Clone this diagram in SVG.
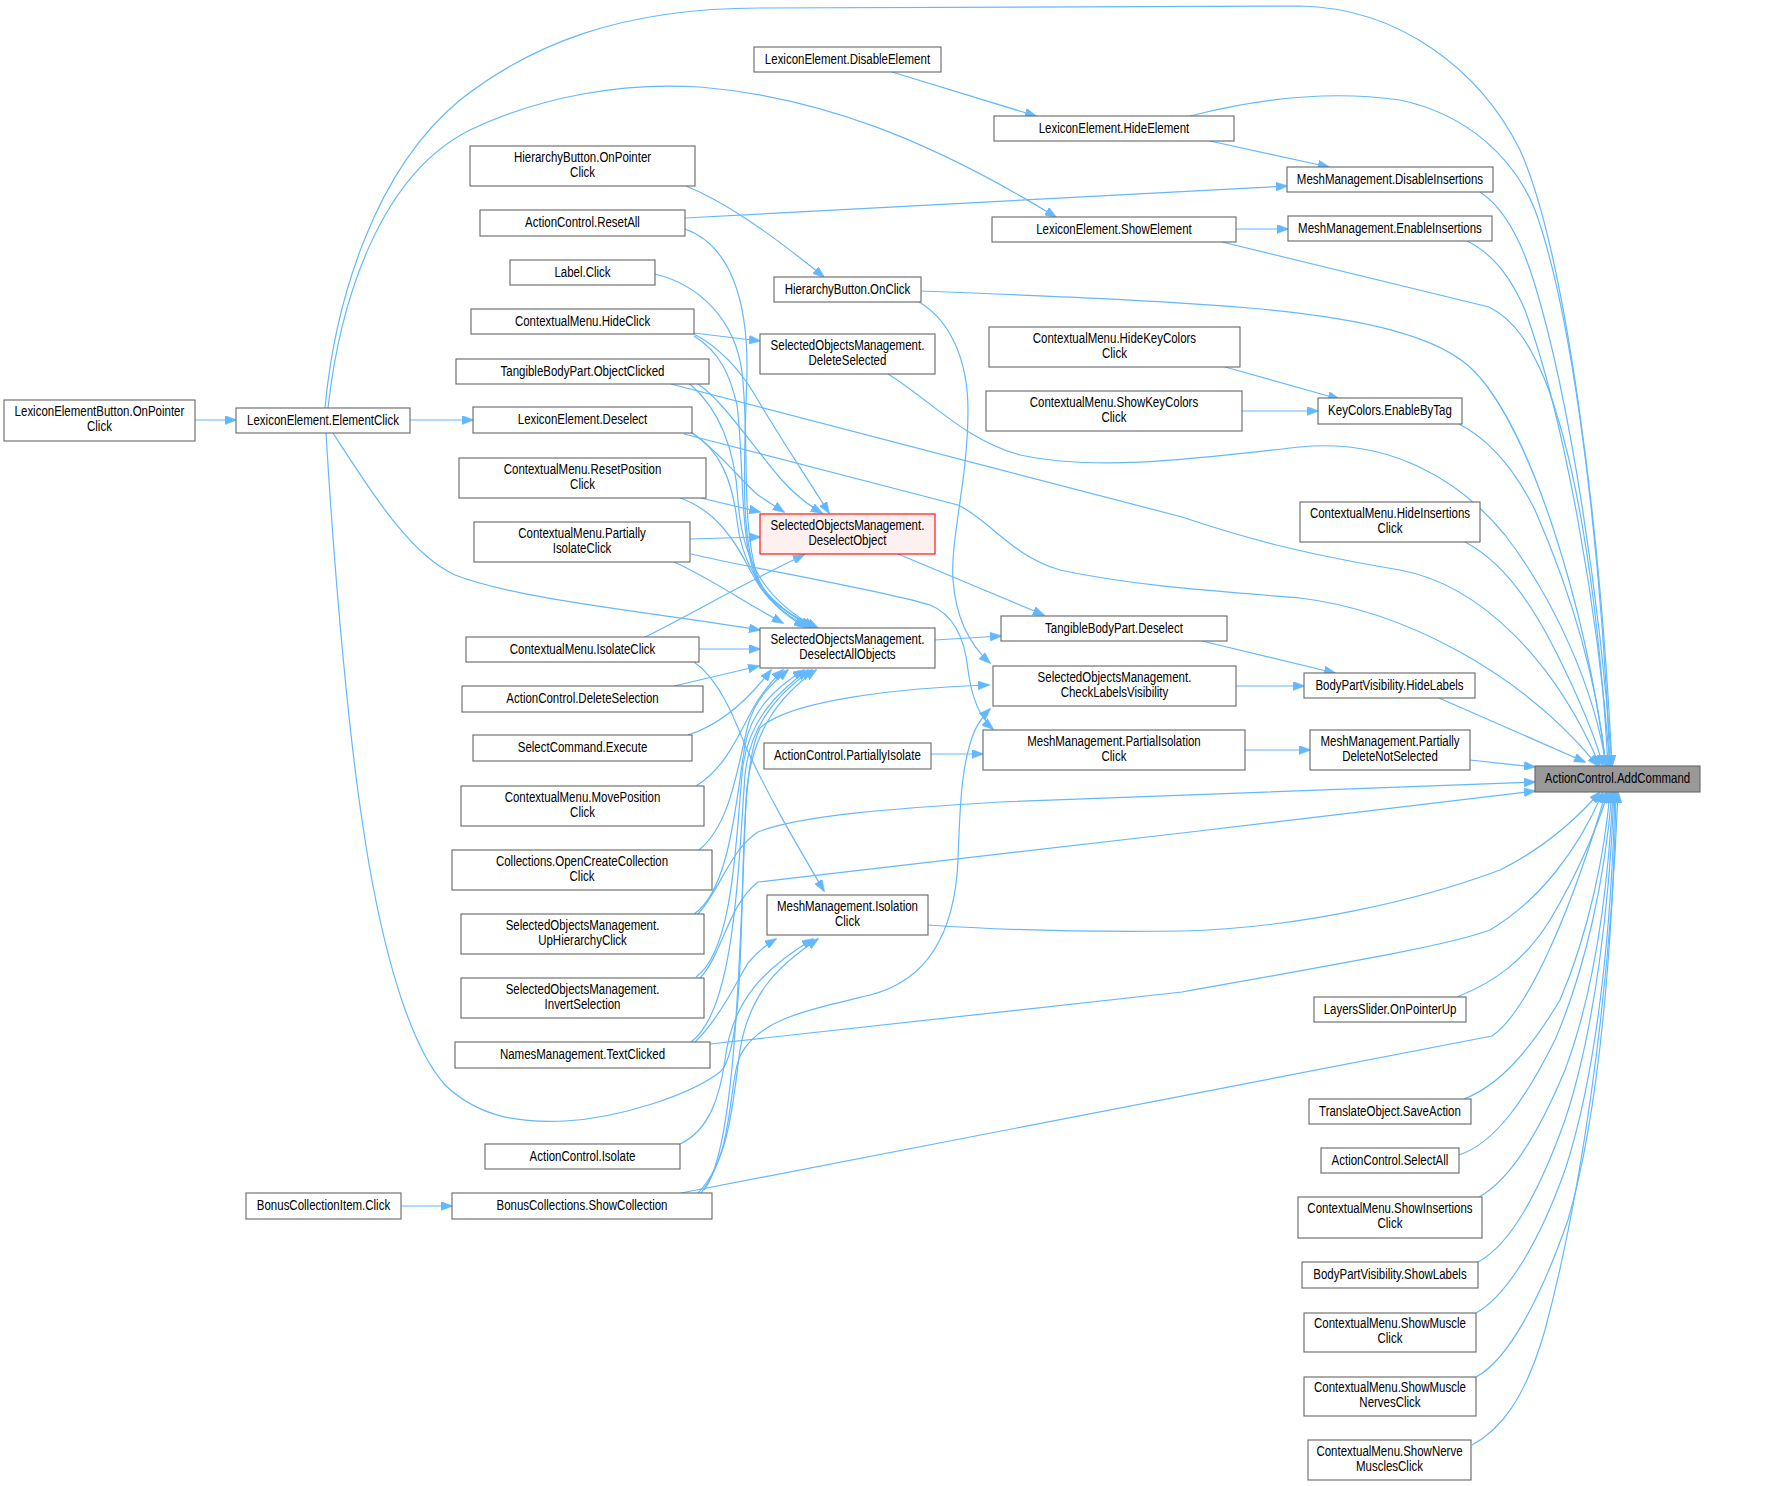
<svg xmlns="http://www.w3.org/2000/svg" width="1773" height="1486" viewBox="0 0 1773 1486">
<style>
.n rect{fill:#fff;stroke:#666;stroke-width:1.1}
.hl rect{fill:#fff0f0;stroke:#ff0000}
.root rect{fill:#999;stroke:#666}
.n text{font-family:"Liberation Sans",Arial,sans-serif;font-size:14px;text-anchor:middle;fill:#000}
.e path{fill:none;stroke:#63b8ff;stroke-width:1.2;marker-end:url(#ah)}
</style>
<defs>
<marker id="ah" viewBox="0 0 12 9" refX="11" refY="4.5" markerWidth="12" markerHeight="9" markerUnits="userSpaceOnUse" orient="auto">
<path d="M0,0 L12,4.5 L0,9 z" fill="#63b8ff" stroke="#63b8ff" stroke-width="0.5"/>
</marker>
</defs>
<rect width="1773" height="1486" fill="#fff"/>
<g id="edges" class="e">
<path d="M195,420 L236,420"/>
<path d="M410,420 L473,420"/>
<path d="M325,408 C335,300 375,170 460,100 C530,45 620,8 760,8 L1300,6 C1400,8 1480,70 1520,150 C1565,250 1600,520 1612,766"/>
<path d="M328,408 C340,300 380,175 470,130 C540,97 620,82 700,87 C820,97 930,140 1056,217"/>
<path d="M333,433 C370,490 410,555 455,575 C520,600 650,612 760,630"/>
<path d="M326,433 C336,600 350,740 362,820 C378,930 405,1040 445,1085 C480,1118 520,1123 565,1121 C620,1118 690,1095 720,1072 C745,1050 740,900 745,820 C748,770 752,745 760,728 C790,700 900,688 989,685"/>
<path d="M892,72 L1036,116"/>
<path d="M1210,141 L1329,167"/>
<path d="M1190,116 C1260,98 1330,90 1400,100 C1470,115 1515,160 1535,210 C1575,320 1602,560 1610,766"/>
<path d="M685,218 L1287,186"/>
<path d="M1236,229 L1288,229"/>
<path d="M1480,192 C1500,205 1520,235 1535,285 C1570,400 1600,600 1612,766"/>
<path d="M1467,241 C1490,252 1510,275 1525,310 C1565,420 1598,610 1610,766"/>
<path d="M1222,242 L1489,307 C1515,320 1530,345 1545,380 C1580,470 1600,620 1608,766"/>
<path d="M686,186 C720,200 760,225 824,277"/>
<path d="M921,291 C1050,296 1150,300 1250,308 C1360,318 1440,335 1475,372 C1530,430 1585,600 1606,766"/>
<path d="M919,302 C950,320 968,360 968,410 C968,480 950,540 953,580 C956,620 970,645 990,663"/>
<path d="M1225,367 L1339,399"/>
<path d="M1242,411 L1318,411"/>
<path d="M1459,424 C1490,440 1515,470 1535,510 C1570,590 1597,680 1606,766"/>
<path d="M888,374 C930,400 965,440 1020,455 C1100,472 1200,458 1300,447 C1390,438 1460,480 1505,535 C1555,600 1595,690 1606,766"/>
<path d="M1465,542 C1500,560 1530,600 1555,650 C1580,700 1595,735 1603,766"/>
<path d="M671,384 L1182,517 C1250,540 1310,555 1400,570 C1480,585 1555,660 1600,766"/>
<path d="M684,434 L958,505 C990,520 1010,555 1060,570 C1130,585 1200,590 1300,598 C1400,610 1520,670 1598,766"/>
<path d="M1439,698 L1585,762"/>
<path d="M1470,760 L1535,767"/>
<path d="M1245,750 L1310,750"/>
<path d="M931,754 L983,754"/>
<path d="M698,914 C720,890 730,850 758,832 C800,815 900,808 1000,802 L1535,782"/>
<path d="M700,978 C722,955 728,905 758,882 L1182,833 L1535,791"/>
<path d="M928,925 C1000,930 1100,932 1182,931 C1300,928 1420,900 1500,870 C1550,845 1580,815 1600,792"/>
<path d="M710,1044 L1182,992 C1350,962 1450,945 1490,930 C1540,900 1578,850 1603,792"/>
<path d="M681,1193 L1492,1036 C1530,1010 1575,900 1606,792"/>
<path d="M1457,997 C1495,982 1525,960 1550,920 C1580,870 1600,820 1608,792"/>
<path d="M1464,1099 C1500,1085 1530,1050 1560,1000 C1590,930 1605,850 1610,792"/>
<path d="M1459,1155 C1495,1143 1525,1100 1555,1040 C1585,970 1605,880 1612,792"/>
<path d="M1479,1197 C1510,1180 1540,1130 1565,1070 C1595,990 1608,890 1613,792"/>
<path d="M1478,1262 C1510,1245 1540,1190 1565,1120 C1595,1030 1610,900 1614,792"/>
<path d="M1476,1313 C1508,1295 1540,1240 1565,1170 C1598,1070 1612,920 1615,792"/>
<path d="M1476,1377 C1508,1360 1540,1300 1568,1220 C1600,1110 1613,940 1616,792"/>
<path d="M1472,1445 C1500,1430 1525,1400 1545,1330 C1580,1200 1610,1000 1618,792"/>
<path d="M898,554 L1044,615"/>
<path d="M935,640 L1001,636"/>
<path d="M1202,641 L1335,673"/>
<path d="M1236,686 L1304,686"/>
<path d="M694,333 L760,341"/>
<path d="M701,498 L760,512"/>
<path d="M690,539 L760,537"/>
<path d="M645,637 C690,615 740,585 804,555"/>
<path d="M691,432 C720,452 740,480 758,495 C768,502 775,506 784,512"/>
<path d="M698,384 C722,400 748,440 780,478 C795,495 808,505 822,513"/>
<path d="M694,334 C720,348 740,370 755,395 C775,430 805,475 829,513"/>
<path d="M655,274 C700,285 735,320 742,372 C750,440 740,525 758,578 C770,605 790,618 805,627"/>
<path d="M685,229 C730,245 748,300 747,372 C745,450 738,540 760,585 C775,605 795,617 811,627"/>
<path d="M694,336 C720,352 730,375 737,405 C745,470 738,545 760,587 C775,607 797,618 815,627"/>
<path d="M690,384 C720,410 735,450 738,500 C742,560 765,602 818,628"/>
<path d="M692,433 C720,450 732,480 737,520 C743,575 775,610 813,627"/>
<path d="M680,498 C715,510 735,540 750,570 C765,600 785,615 808,627"/>
<path d="M674,562 C710,578 740,600 783,623"/>
<path d="M699,649 L760,649"/>
<path d="M674,686 L759,666"/>
<path d="M688,735 C720,725 748,700 771,670"/>
<path d="M696,786 C730,765 742,725 758,700 C765,690 772,680 783,670"/>
<path d="M699,850 C730,825 737,770 748,725 C755,700 770,685 788,670"/>
<path d="M694,914 C730,890 736,800 745,745 C752,710 775,688 804,670"/>
<path d="M696,977 C735,950 736,830 743,765 C750,718 780,690 808,670"/>
<path d="M691,1042 C735,1010 738,870 745,775 C750,722 782,690 812,670"/>
<path d="M704,1190 C736,1150 740,950 746,800 C750,730 782,694 816,670"/>
<path d="M694,662 C720,680 735,720 745,745 C770,800 800,850 824,891"/>
<path d="M695,1042 C718,1020 735,985 748,963 C757,952 766,945 776,939"/>
<path d="M680,1144 C710,1130 720,1095 725,1060 C732,1000 765,968 813,939"/>
<path d="M698,1193 C730,1160 733,1100 740,1050 C750,990 782,963 818,939"/>
<path d="M701,1193 C735,1150 728,1080 741,1054 C760,1020 800,1012 870,995 C930,980 955,930 958,860 C960,800 962,760 975,730 C980,720 985,714 990,709"/>
<path d="M401,1206 L452,1206"/>
<path d="M691,554 C760,570 880,590 930,605 C955,615 965,640 968,670 C972,700 980,718 993,729"/>
</g>
<g id="n_lebopc" class="n"><rect x="4" y="400" width="191" height="41"/><g transform="scale(0.82 1)"><text x="121.3" y="416.5">LexiconElementButton.OnPointer</text><text x="121.3" y="431.5">Click</text></g></g>
<g id="n_elementclick" class="n"><rect x="236" y="408" width="174" height="25"/><g transform="scale(0.82 1)"><text x="393.9" y="425">LexiconElement.ElementClick</text></g></g>
<g id="n_disableelement" class="n"><rect x="754" y="47" width="187" height="25"/><g transform="scale(0.82 1)"><text x="1033.5" y="64">LexiconElement.DisableElement</text></g></g>
<g id="n_hideelement" class="n"><rect x="994" y="116" width="240" height="25"/><g transform="scale(0.82 1)"><text x="1358.5" y="133">LexiconElement.HideElement</text></g></g>
<g id="n_showelement" class="n"><rect x="992" y="217" width="244" height="25"/><g transform="scale(0.82 1)"><text x="1358.5" y="234">LexiconElement.ShowElement</text></g></g>
<g id="n_disableins" class="n"><rect x="1287" y="167" width="206" height="25"/><g transform="scale(0.82 1)"><text x="1695.1" y="184">MeshManagement.DisableInsertions</text></g></g>
<g id="n_enableins" class="n"><rect x="1288" y="216" width="204" height="25"/><g transform="scale(0.82 1)"><text x="1695.1" y="233">MeshManagement.EnableInsertions</text></g></g>
<g id="n_hbonpointer" class="n"><rect x="470" y="146" width="225" height="40"/><g transform="scale(0.82 1)"><text x="710.4" y="162">HierarchyButton.OnPointer</text><text x="710.4" y="177">Click</text></g></g>
<g id="n_resetall" class="n"><rect x="480" y="210" width="205" height="26"/><g transform="scale(0.82 1)"><text x="710.4" y="227.5">ActionControl.ResetAll</text></g></g>
<g id="n_labelclick" class="n"><rect x="510" y="260" width="145" height="25"/><g transform="scale(0.82 1)"><text x="710.4" y="277">Label.Click</text></g></g>
<g id="n_hideclick" class="n"><rect x="471" y="309" width="223" height="25"/><g transform="scale(0.82 1)"><text x="710.4" y="326">ContextualMenu.HideClick</text></g></g>
<g id="n_objectclicked" class="n"><rect x="456" y="359" width="253" height="25"/><g transform="scale(0.82 1)"><text x="710.4" y="376">TangibleBodyPart.ObjectClicked</text></g></g>
<g id="n_ledeselect" class="n"><rect x="473" y="407" width="219" height="26"/><g transform="scale(0.82 1)"><text x="710.4" y="424.5">LexiconElement.Deselect</text></g></g>
<g id="n_resetpos" class="n"><rect x="459" y="458" width="247" height="40"/><g transform="scale(0.82 1)"><text x="710.4" y="474">ContextualMenu.ResetPosition</text><text x="710.4" y="489">Click</text></g></g>
<g id="n_partisoclick_cm" class="n"><rect x="474" y="522" width="216" height="40"/><g transform="scale(0.82 1)"><text x="709.8" y="538">ContextualMenu.Partially</text><text x="709.8" y="553">IsolateClick</text></g></g>
<g id="n_isolateclick_cm" class="n"><rect x="466" y="637" width="233" height="25"/><g transform="scale(0.82 1)"><text x="710.4" y="654">ContextualMenu.IsolateClick</text></g></g>
<g id="n_deleteselection" class="n"><rect x="462" y="686" width="241" height="26"/><g transform="scale(0.82 1)"><text x="710.4" y="703.5">ActionControl.DeleteSelection</text></g></g>
<g id="n_selectexecute" class="n"><rect x="473" y="735" width="219" height="26"/><g transform="scale(0.82 1)"><text x="710.4" y="752.5">SelectCommand.Execute</text></g></g>
<g id="n_movepos" class="n"><rect x="461" y="786" width="243" height="40"/><g transform="scale(0.82 1)"><text x="710.4" y="802">ContextualMenu.MovePosition</text><text x="710.4" y="817">Click</text></g></g>
<g id="n_opencreate" class="n"><rect x="452" y="850" width="260" height="40"/><g transform="scale(0.82 1)"><text x="709.8" y="866">Collections.OpenCreateCollection</text><text x="709.8" y="881">Click</text></g></g>
<g id="n_uphierarchy" class="n"><rect x="461" y="914" width="243" height="40"/><g transform="scale(0.82 1)"><text x="710.4" y="930">SelectedObjectsManagement.</text><text x="710.4" y="945">UpHierarchyClick</text></g></g>
<g id="n_invertselection" class="n"><rect x="461" y="978" width="243" height="40"/><g transform="scale(0.82 1)"><text x="710.4" y="994">SelectedObjectsManagement.</text><text x="710.4" y="1009">InvertSelection</text></g></g>
<g id="n_textclicked" class="n"><rect x="455" y="1042" width="255" height="26"/><g transform="scale(0.82 1)"><text x="710.4" y="1059.5">NamesManagement.TextClicked</text></g></g>
<g id="n_isolate_ac" class="n"><rect x="485" y="1144" width="195" height="25"/><g transform="scale(0.82 1)"><text x="710.4" y="1161">ActionControl.Isolate</text></g></g>
<g id="n_bonusitemclick" class="n"><rect x="246" y="1193" width="155" height="26"/><g transform="scale(0.82 1)"><text x="394.5" y="1210.5">BonusCollectionItem.Click</text></g></g>
<g id="n_showcollection" class="n"><rect x="452" y="1193" width="260" height="26"/><g transform="scale(0.82 1)"><text x="709.8" y="1210.5">BonusCollections.ShowCollection</text></g></g>
<g id="n_hbonclick" class="n"><rect x="774" y="277" width="147" height="25"/><g transform="scale(0.82 1)"><text x="1033.5" y="294">HierarchyButton.OnClick</text></g></g>
<g id="n_deleteselected" class="n"><rect x="760" y="334" width="175" height="40"/><g transform="scale(0.82 1)"><text x="1033.5" y="350">SelectedObjectsManagement.</text><text x="1033.5" y="365">DeleteSelected</text></g></g>
<g id="n_deselectobject" class="n hl"><rect x="760" y="514" width="175" height="40"/><g transform="scale(0.82 1)"><text x="1033.5" y="530">SelectedObjectsManagement.</text><text x="1033.5" y="545">DeselectObject</text></g></g>
<g id="n_deselectall" class="n"><rect x="760" y="628" width="175" height="40"/><g transform="scale(0.82 1)"><text x="1033.5" y="644">SelectedObjectsManagement.</text><text x="1033.5" y="659">DeselectAllObjects</text></g></g>
<g id="n_partiallyisolate_ac" class="n"><rect x="764" y="743" width="167" height="26"/><g transform="scale(0.82 1)"><text x="1033.5" y="760.5">ActionControl.PartiallyIsolate</text></g></g>
<g id="n_isolationclick" class="n"><rect x="767" y="895" width="161" height="40"/><g transform="scale(0.82 1)"><text x="1033.5" y="911">MeshManagement.Isolation</text><text x="1033.5" y="926">Click</text></g></g>
<g id="n_hidekeycolors" class="n"><rect x="989" y="327" width="251" height="40"/><g transform="scale(0.82 1)"><text x="1359.1" y="343">ContextualMenu.HideKeyColors</text><text x="1359.1" y="358">Click</text></g></g>
<g id="n_showkeycolors" class="n"><rect x="986" y="391" width="256" height="40"/><g transform="scale(0.82 1)"><text x="1358.5" y="407">ContextualMenu.ShowKeyColors</text><text x="1358.5" y="422">Click</text></g></g>
<g id="n_tbpdeselect" class="n"><rect x="1001" y="616" width="226" height="25"/><g transform="scale(0.82 1)"><text x="1358.5" y="633">TangibleBodyPart.Deselect</text></g></g>
<g id="n_checklabels" class="n"><rect x="993" y="666" width="243" height="40"/><g transform="scale(0.82 1)"><text x="1359.1" y="682">SelectedObjectsManagement.</text><text x="1359.1" y="697">CheckLabelsVisibility</text></g></g>
<g id="n_partialisolationclick" class="n"><rect x="983" y="730" width="262" height="40"/><g transform="scale(0.82 1)"><text x="1358.5" y="746">MeshManagement.PartialIsolation</text><text x="1358.5" y="761">Click</text></g></g>
<g id="n_enablebytag" class="n"><rect x="1318" y="398" width="144" height="26"/><g transform="scale(0.82 1)"><text x="1695.1" y="415.5">KeyColors.EnableByTag</text></g></g>
<g id="n_hideinsertions" class="n"><rect x="1300" y="502" width="180" height="40"/><g transform="scale(0.82 1)"><text x="1695.1" y="518">ContextualMenu.HideInsertions</text><text x="1695.1" y="533">Click</text></g></g>
<g id="n_hidelabels" class="n"><rect x="1304" y="673" width="171" height="25"/><g transform="scale(0.82 1)"><text x="1694.5" y="690">BodyPartVisibility.HideLabels</text></g></g>
<g id="n_partdelete" class="n"><rect x="1310" y="730" width="160" height="40"/><g transform="scale(0.82 1)"><text x="1695.1" y="746">MeshManagement.Partially</text><text x="1695.1" y="761">DeleteNotSelected</text></g></g>
<g id="n_layersslider" class="n"><rect x="1314" y="997" width="152" height="25"/><g transform="scale(0.82 1)"><text x="1695.1" y="1014">LayersSlider.OnPointerUp</text></g></g>
<g id="n_saveaction" class="n"><rect x="1309" y="1099" width="162" height="25"/><g transform="scale(0.82 1)"><text x="1695.1" y="1116">TranslateObject.SaveAction</text></g></g>
<g id="n_selectall" class="n"><rect x="1321" y="1148" width="138" height="25"/><g transform="scale(0.82 1)"><text x="1695.1" y="1165">ActionControl.SelectAll</text></g></g>
<g id="n_showinsertions" class="n"><rect x="1298" y="1197" width="184" height="41"/><g transform="scale(0.82 1)"><text x="1695.1" y="1213.5">ContextualMenu.ShowInsertions</text><text x="1695.1" y="1228.5">Click</text></g></g>
<g id="n_showlabels" class="n"><rect x="1302" y="1262" width="176" height="26"/><g transform="scale(0.82 1)"><text x="1695.1" y="1279.5">BodyPartVisibility.ShowLabels</text></g></g>
<g id="n_showmuscle" class="n"><rect x="1304" y="1313" width="172" height="39"/><g transform="scale(0.82 1)"><text x="1695.1" y="1328.5">ContextualMenu.ShowMuscle</text><text x="1695.1" y="1343.5">Click</text></g></g>
<g id="n_showmusclenerves" class="n"><rect x="1304" y="1377" width="172" height="39"/><g transform="scale(0.82 1)"><text x="1695.1" y="1392.5">ContextualMenu.ShowMuscle</text><text x="1695.1" y="1407.5">NervesClick</text></g></g>
<g id="n_shownervemuscles" class="n"><rect x="1308" y="1440" width="163" height="40"/><g transform="scale(0.82 1)"><text x="1694.5" y="1456">ContextualMenu.ShowNerve</text><text x="1694.5" y="1471">MusclesClick</text></g></g>
<g id="n_addcommand" class="n root"><rect x="1535" y="766" width="165" height="26"/><g transform="scale(0.82 1)"><text x="1972.6" y="783.5">ActionControl.AddCommand</text></g></g>
</svg>
